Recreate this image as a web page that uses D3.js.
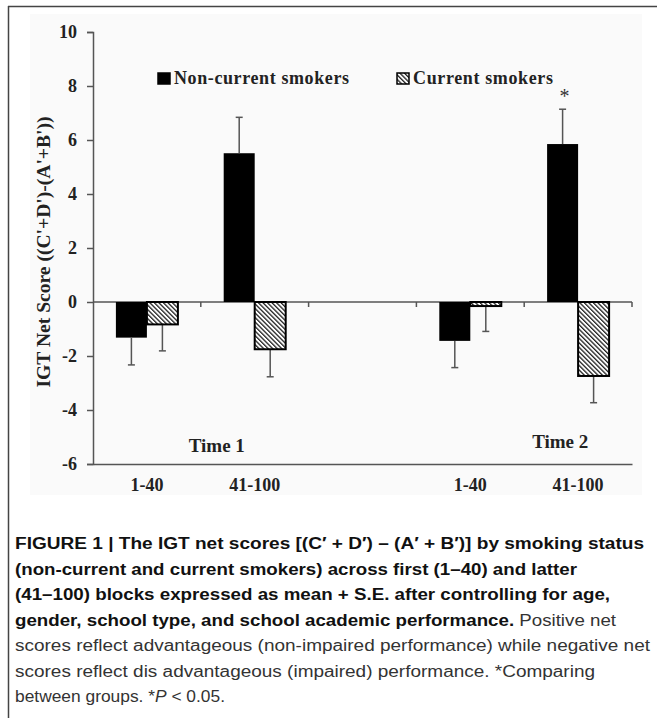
<!DOCTYPE html>
<html>
<head>
<meta charset="utf-8">
<script src="https://cdn.jsdelivr.net/npm/d3@7"></script>
<style>
  html, body { margin: 0; padding: 0; background: #fff; }
  svg { display: block; }
</style>
</head>
<body>
<svg id="chart" width="657" height="718"></svg>
<script>
// ---- data ----
const slots = ["T1 1-40", "T1 41-100", "gap", "T2 1-40", "T2 41-100"];
const blockLabels = ["1-40", "41-100", "", "1-40", "41-100"];
const barSlots = ["T1 1-40", "T1 41-100", "T2 1-40", "T2 41-100"];
const seriesNames = ["Non-current smokers", "Current smokers"];
const nonCurrent = [-1.32, 5.51, -1.44, 5.85];
const nonCurrentSE = [1.01, 1.33, 0.99, 1.29];
const current = [-0.83, -1.75, -0.15, -2.74];
const currentSE = [0.98, 1.02, 0.94, 0.99];
const significant = [false, false, false, true];
const yTicks = [10, 8, 6, 4, 2, 0, -2, -4, -6];
const yTickLabels = ["10", "8", "6", "4", "2", "0", "-2", "-4", "-6"];
const timeLabels = ["Time 1", "Time 2"];
const yLabel = "IGT Net Score ((C'+D')-(A'+B'))";
const captionLines = [
  [{t: "FIGURE 1 | The IGT net scores [(C\u2032 + D\u2032) \u2013 (A\u2032 + B\u2032)] by smoking status", b: true}],
  [{t: "(non-current and current smokers) across first (1\u201340) and latter", b: true}],
  [{t: "(41\u2013100) blocks expressed as mean + S.E. after controlling for age,", b: true}],
  [{t: "gender, school type, and school academic performance.", b: true}, {t: " Positive net"}],
  [{t: "scores reflect advantageous (non-impaired performance) while negative net"}],
  [{t: "scores reflect dis advantageous (impaired) performance. *Comparing"}],
  [{t: "between groups. *"}, {t: "P", i: true}, {t: " < 0.05."}]
];
const captionWidths = [629, 562, 595, 601, 635, 580, 210];

// ---- drawing ----
const svg = d3.select("#chart");
const serif = "'Liberation Serif', 'Times New Roman', serif";
const sans = "'Liberation Sans', Arial, sans-serif";
const axisCol = "#555";

// frame and chart background
svg.append("rect").attr("x", 30).attr("y", 14).attr("width", 612).attr("height", 481).attr("fill", "#fafafa");
svg.append("line").attr("x1", 8).attr("x2", 657).attr("y1", 6.5).attr("y2", 6.5).attr("stroke", "#444").attr("stroke-width", 1.5);
svg.append("line").attr("x1", 8.5).attr("x2", 8.5).attr("y1", 6).attr("y2", 718).attr("stroke", "#444").attr("stroke-width", 1.5);

// hatch pattern
const defs = svg.append("defs");
const pat = defs.append("pattern").attr("id", "hatch").attr("patternUnits", "userSpaceOnUse")
  .attr("width", 3.2).attr("height", 3.2).attr("patternTransform", "rotate(-45)");
pat.append("rect").attr("width", 3.2).attr("height", 3.2).attr("fill", "#fff");
pat.append("rect").attr("width", 1.3).attr("height", 3.2).attr("fill", "#222");

const x = d3.scaleBand().domain(slots).range([93, 632]).paddingInner(0).paddingOuter(0);
const y = d3.scaleLinear().domain([-6, 10]).range([464, 32]);
const barW = 31;

// y axis
const yAxis = d3.axisLeft(y).tickValues(yTicks).tickSize(6).tickPadding(10).tickFormat((d, i) => yTickLabels[i]);
const gy = svg.append("g").attr("transform", "translate(93,0)").call(yAxis);
gy.select(".domain").attr("stroke", axisCol).attr("stroke-width", 1.5);
gy.selectAll(".tick line").attr("stroke", axisCol).attr("stroke-width", 1.5);
gy.selectAll(".tick text").attr("font-family", serif).attr("font-weight", "bold").attr("font-size", 18).attr("fill", "#222");

// zero line with tick marks at slot boundaries
svg.append("line").attr("x1", 93).attr("x2", 632).attr("y1", y(0)).attr("y2", y(0)).attr("stroke", axisCol).attr("stroke-width", 1.5);
svg.selectAll(".zt").data(slots).enter().append("line")
  .attr("x1", d => x(d) + x.bandwidth()).attr("x2", d => x(d) + x.bandwidth())
  .attr("y1", y(0)).attr("y2", y(0) + 5).attr("stroke", axisCol).attr("stroke-width", 1.5);

// bottom axis line at -6
const xAxis = d3.axisBottom(x).tickSize(0).tickPadding(14).tickFormat((d, i) => blockLabels[i]);
const gx = svg.append("g").attr("transform", `translate(0,${y(-6)})`).call(xAxis);
gx.select(".domain").attr("stroke", axisCol).attr("stroke-width", 1.5);
gx.selectAll(".tick text").attr("font-family", serif).attr("font-weight", "bold").attr("font-size", 18).attr("fill", "#222");

// bars
const groupOff = (x.bandwidth() - 2 * barW) / 2;
const errCol = "#555";
barSlots.forEach((s, i) => {
  const x0 = x(s) + groupOff;
  // non-current
  const v1 = nonCurrent[i];
  svg.append("rect").attr("x", x0).attr("width", barW)
    .attr("y", y(Math.max(0, v1))).attr("height", Math.abs(y(v1) - y(0))).attr("fill", "#000");
  const e1 = v1 >= 0 ? v1 + nonCurrentSE[i] : v1 - nonCurrentSE[i];
  const cx1 = x0 + barW / 2;
  svg.append("line").attr("x1", cx1).attr("x2", cx1).attr("y1", y(v1)).attr("y2", y(e1)).attr("stroke", errCol).attr("stroke-width", 1.5);
  svg.append("line").attr("x1", cx1 - 3.5).attr("x2", cx1 + 3.5).attr("y1", y(e1)).attr("y2", y(e1)).attr("stroke", errCol).attr("stroke-width", 1.5);
  if (significant[i]) {
    svg.append("text").attr("x", cx1 + 2).attr("y", y(e1) - 6).attr("text-anchor", "middle")
      .attr("font-family", serif).attr("font-size", 20).attr("fill", "#333").text("*");
  }
  // current
  const v2 = current[i];
  const x1 = x0 + barW;
  const e2 = v2 >= 0 ? v2 + currentSE[i] : v2 - currentSE[i];
  const cx2 = x1 + barW / 2;
  svg.append("line").attr("x1", cx2).attr("x2", cx2).attr("y1", y(v2)).attr("y2", y(e2)).attr("stroke", errCol).attr("stroke-width", 1.5);
  svg.append("line").attr("x1", cx2 - 3.5).attr("x2", cx2 + 3.5).attr("y1", y(e2)).attr("y2", y(e2)).attr("stroke", errCol).attr("stroke-width", 1.5);
  svg.append("rect").attr("x", x1).attr("width", barW)
    .attr("y", y(Math.max(0, v2))).attr("height", Math.abs(y(v2) - y(0)))
    .attr("fill", "url(#hatch)").attr("stroke", "#000").attr("stroke-width", 2);
});

// time labels
[[x("T1 41-100") + 16, 452], [x("T2 41-100") + 36, 448]].forEach((p, i) => {
  svg.append("text").attr("x", p[0]).attr("y", p[1]).attr("text-anchor", "middle")
    .attr("font-family", serif).attr("font-weight", "bold").attr("font-size", 19).attr("fill", "#222").text(timeLabels[i]);
});

// legend
const legend = [
  {x: 158, fill: "#000", w: 175},
  {x: 397, fill: "url(#hatch)", w: 140}
];
legend.forEach((l, i) => {
  svg.append("rect").attr("x", l.x).attr("y", 73).attr("width", 12).attr("height", 11)
    .attr("fill", l.fill).attr("stroke", "#000").attr("stroke-width", 1.5);
  svg.append("text").attr("x", l.x + 16).attr("y", 84)
    .attr("font-family", serif).attr("font-weight", "bold").attr("font-size", 18).attr("fill", "#222")
    .attr("textLength", l.w).attr("lengthAdjust", "spacing").text(seriesNames[i]);
});

// y label
svg.append("text").attr("transform", `translate(50,${(y(10) + y(-6)) / 2 + 4}) rotate(-90)`)
  .attr("text-anchor", "middle").attr("font-family", serif).attr("font-weight", "bold").attr("font-size", 19)
  .attr("fill", "#222").attr("textLength", 271).attr("lengthAdjust", "spacingAndGlyphs").text(yLabel);

// caption
captionLines.forEach((line, i) => {
  const t = svg.append("text").attr("x", 15).attr("y", 549 + i * 25.5)
    .attr("font-family", sans).attr("font-size", 16).attr("fill", "#111");
  line.forEach(seg => {
    t.append("tspan").attr("font-weight", seg.b ? "bold" : "normal")
      .attr("font-style", seg.i ? "italic" : "normal")
      .attr("fill", seg.b ? "#111" : "#333").text(seg.t);
  });
  t.attr("textLength", captionWidths[i]).attr("lengthAdjust", "spacingAndGlyphs");
});
</script>
</body>
</html>
